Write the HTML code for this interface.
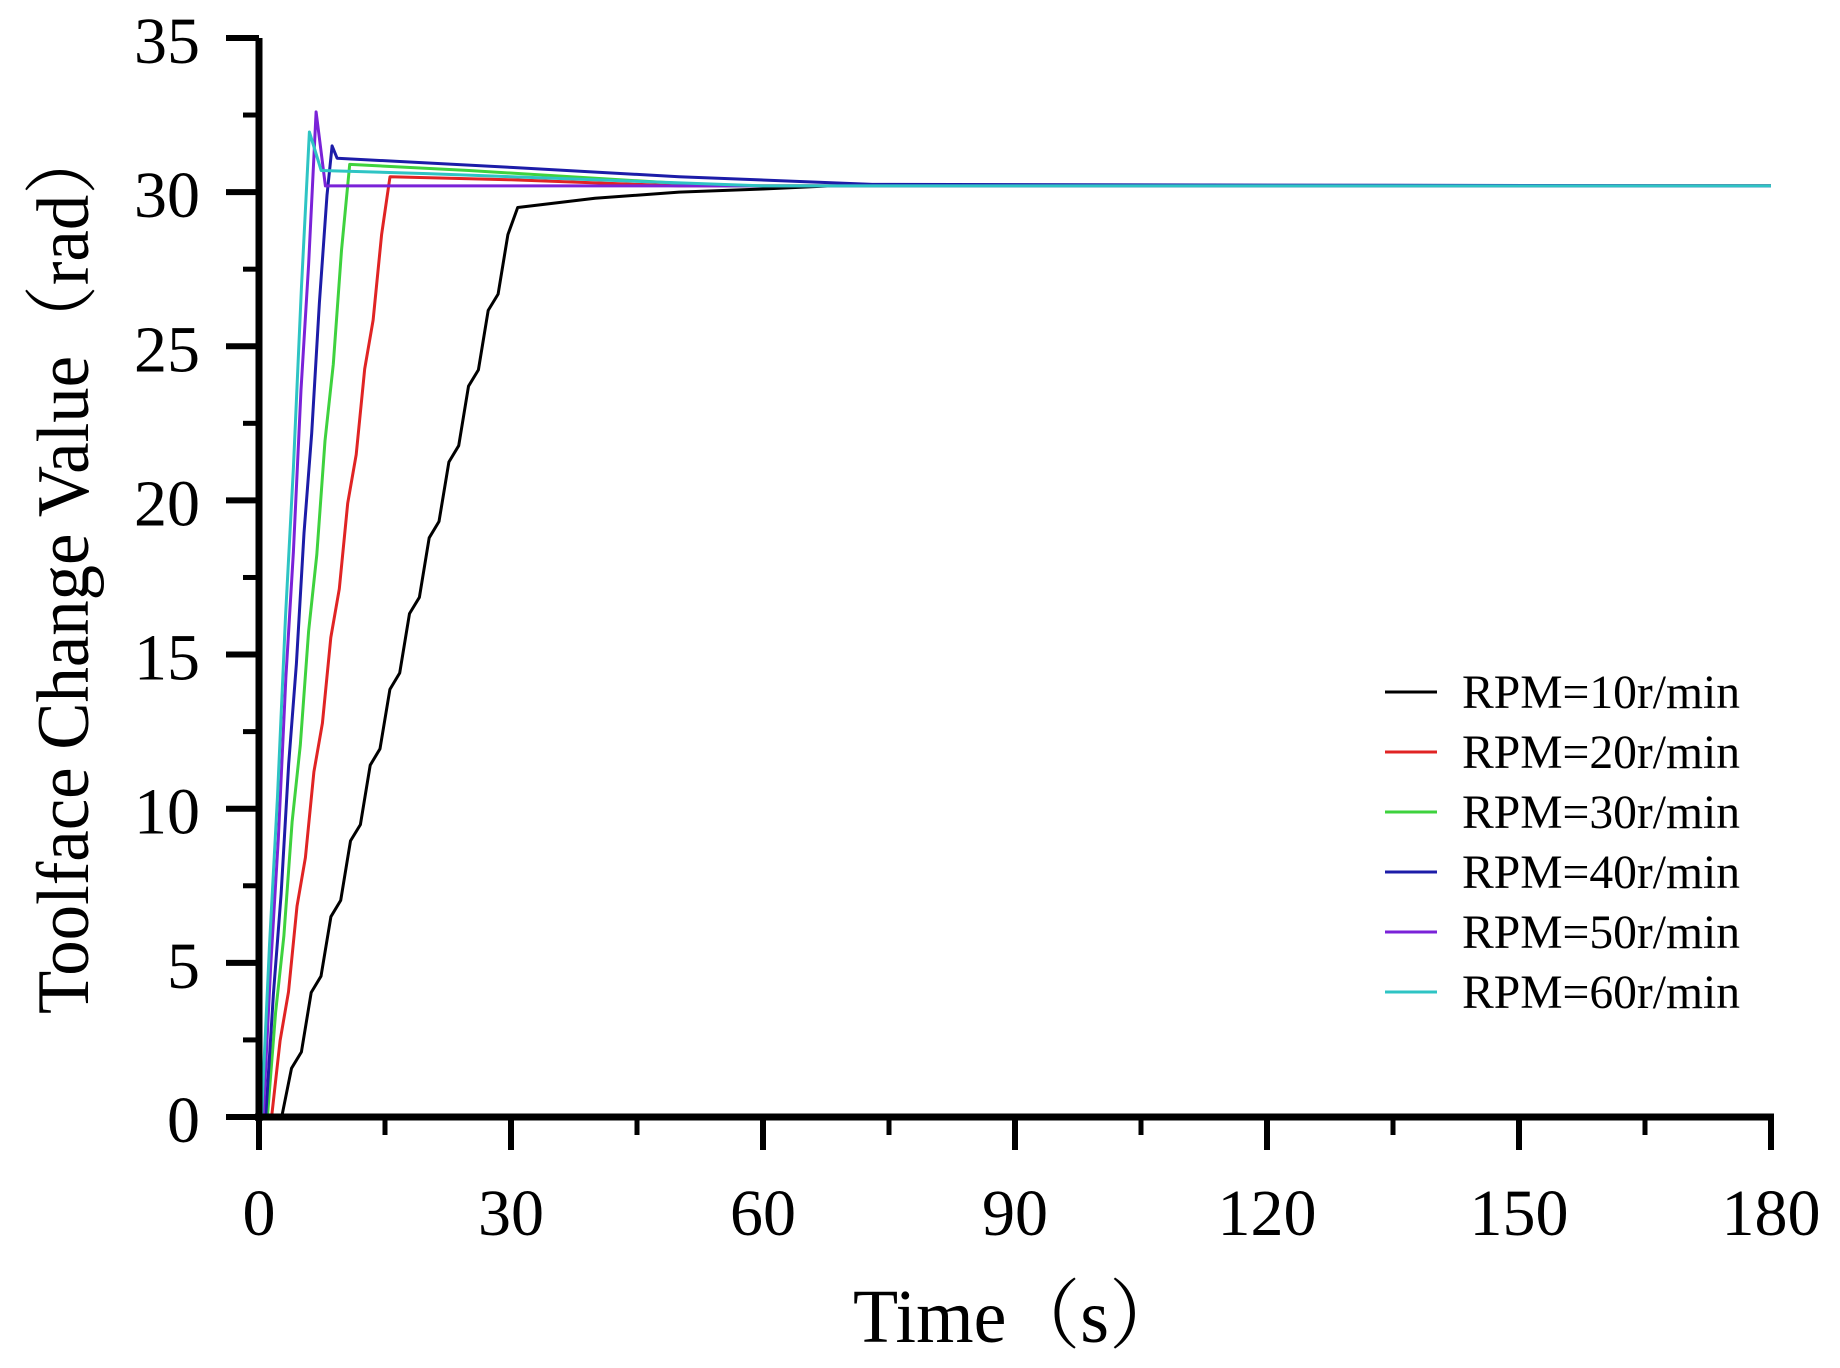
<!DOCTYPE html>
<html><head><meta charset="utf-8"><style>
html,body{margin:0;padding:0;background:#fff;}
svg{display:block;}
text{font-family:"Liberation Serif","Noto Serif CJK SC",serif;fill:#000;}
</style></head><body>
<svg id="s" width="1840" height="1368" viewBox="0 0 1840 1368" xmlns="http://www.w3.org/2000/svg">
<g id="series" fill="none" stroke-width="3" stroke-linejoin="round"></g>
<g id="axes" stroke="#000" fill="none"></g>
<g font-size="66" text-anchor="end" id="ylab"></g>
<g font-size="66" text-anchor="middle" id="xlab"></g>
<text x="853" y="1342" font-size="76" textLength="330" lengthAdjust="spacingAndGlyphs">Time（s）</text>
<text transform="translate(88,569) rotate(-90)" font-size="74" text-anchor="middle" textLength="890" lengthAdjust="spacingAndGlyphs">Toolface Change Value（rad）</text>
<g id="legend" font-size="48"></g>
</svg>
<script>
var NS="http://www.w3.org/2000/svg";
function X(t){return 259+t*8.4;}
function Y(v){return 1117-v*30.83;}
function el(p,tag,a,txt){var e=document.createElementNS(NS,tag);for(var k in a)e.setAttribute(k,a[k]);if(txt)e.textContent=txt;p.appendChild(e);return e;}
var ax=document.getElementById('axes');
el(ax,'line',{x1:259,y1:38,x2:259,y2:1121,'stroke-width':7});
el(ax,'line',{x1:255,y1:1117,x2:1774,y2:1117,'stroke-width':7});
for(var v=0;v<=35;v+=2.5){var maj=(v%5==0);el(ax,'line',{x1:maj?226:243,y1:Y(v),x2:259,y2:Y(v),'stroke-width':maj?6:5});}
for(var t=0;t<=180;t+=15){var maj=(t%30==0);el(ax,'line',{x1:X(t),y1:1117,x2:X(t),y2:maj?1150:1135,'stroke-width':maj?6:5});}
var yl=document.getElementById('ylab');
for(var v=0;v<=35;v+=5)el(yl,'text',{x:200,y:Y(v)+25},String(v));
var xl=document.getElementById('xlab');
for(var t=0;t<=180;t+=30)el(xl,'text',{x:X(t),y:1235},String(t));
function path(pts){return pts.map(function(p,i){return (i?'L':'M')+X(p[0]).toFixed(1)+' '+Y(p[1]).toFixed(1);}).join(' ');}
function rise(t0,t1,v1,n,w){var a=[];for(var i=0;i<=n;i++){var f=i/n;var t=t0+(t1-t0)*f;var v=v1*f;if(i>0&&i<n){v+=((i%2)?w:-w);}a.push([t,Math.max(0,v)]);}return a;}
var S=[
 ['#000',[[0,0],[2.6,0]].concat(rise(2.7,30.8,29.5,24,0.35)).concat([[40,29.8],[50,30.0],[60,30.1],[68,30.2],[180,30.2]])],
 ['#e02424',[[0,0],[1.4,0]].concat(rise(1.5,15.6,30.5,14,0.3)).concat([[30,30.4],[50,30.2],[180,30.2]])],
 ['#3ed23e',[[0,0],[0.9,0]].concat(rise(1.0,10.8,30.9,10,0.3)).concat([[25,30.7],[55,30.2],[180,30.2]])],
 ['#1c1ca8',[[0,0],[0.7,0]].concat(rise(0.8,8.1,29.9,8,0.25)).concat([[8.7,31.5],[9.3,31.1],[30,30.8],[50,30.5],[73,30.25],[180,30.2]])],
 ['#7a22d8',[[0,0],[0.4,0]].concat(rise(0.5,6.8,32.6,7,0.3)).concat([[7.9,30.2],[180,30.2]])],
 ['#2ec4c4',[[0,0],[0.2,0]].concat(rise(0.3,6.0,31.95,6,0.25)).concat([[7.4,30.7],[20,30.6],[40,30.4],[60,30.2],[180,30.2]])]
];
var sg=document.getElementById('series');
S.forEach(function(s){el(sg,'path',{d:path(s[1]),stroke:s[0]});});
var lg=document.getElementById('legend');
var names=['10','20','30','40','50','60'];
S.forEach(function(s,i){var y=692+i*60;el(lg,'line',{x1:1385,y1:y,x2:1437,y2:y,stroke:s[0],'stroke-width':3});el(lg,'text',{x:1462,y:y+16,textLength:278,lengthAdjust:'spacingAndGlyphs'},'RPM='+names[i]+'r/min');});
</script>
</body></html>
